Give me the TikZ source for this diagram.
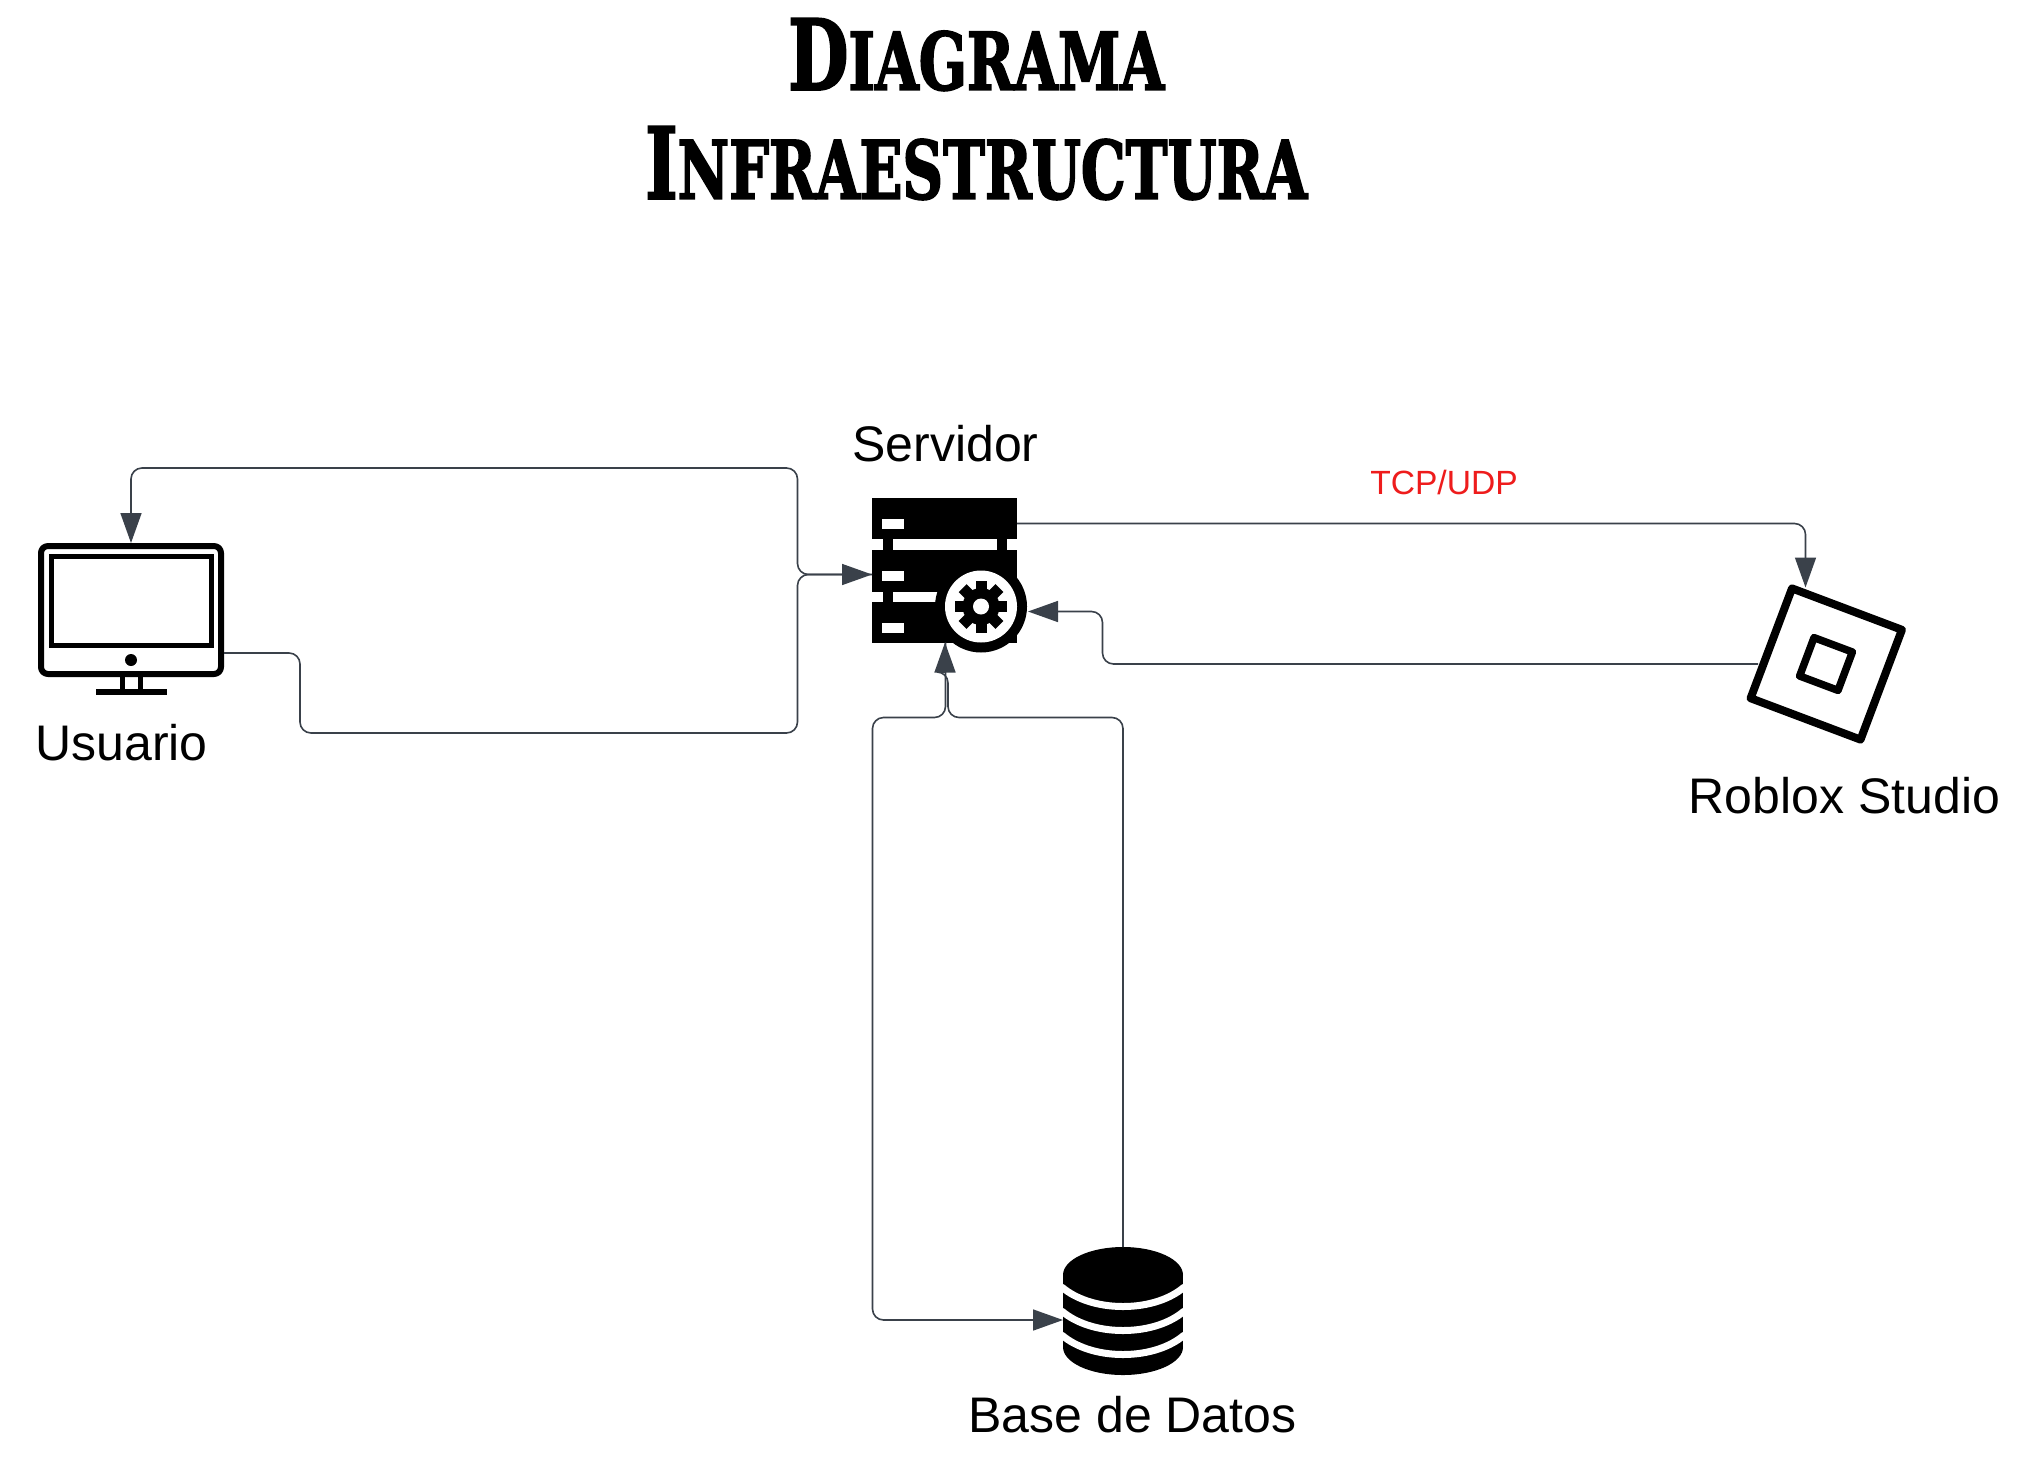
\documentclass[tikz,border=0pt]{standalone}
\usepackage{fontspec}
\usepackage{graphicx}
\setmainfont{Liberation Sans}
\newfontfamily\titlefont{DejaVu Serif}[BoldFont={DejaVu Serif Bold},BoldFeatures={FakeBold=2.5}]
\usetikzlibrary{arrows.meta}
\definecolor{linecol}{HTML}{3A414A}
\definecolor{redlab}{HTML}{EE1C1C}
\newcommand{\smcaptitle}[2]{{\fontsize{96}{96}\selectfont #1}{\fontsize{78}{78}\selectfont #2}}
\tikzset{
  wire/.style={draw=linecol,line width=1.6pt,rounded corners=11pt},
  tipped/.style={-{Triangle[length=30pt,width=21pt,fill=linecol]}},
  anchorbox/.style={inner sep=0pt,outer sep=0pt,rectangle},
  lbl/.style={anchor=base,inner sep=0pt,font=\fontsize{50}{50}\selectfont,text=black},
  titletxt/.style={anchor=south west,inner sep=0pt,text=black,font=\titlefont\bfseries},
  iconline/.style={draw=black,line join=round},
}
\begin{document}
\begin{tikzpicture}[x=1pt,y=-1pt]
\useasboundingbox (0,0) rectangle (2036,1459);
\fill[white] (0,0) rectangle (2036,1459);

% Title
\node[titletxt] (title1) at (788,91) {\resizebox{376pt}{71pt}{\smcaptitle{D}{IAGRAMA}}};
\node[titletxt] (title2) at (645,200) {\resizebox{662pt}{72pt}{\smcaptitle{I}{NFRAESTRUCTURA}}};

% Anchor boxes for the icons
\node[anchorbox,minimum width=186pt,minimum height=134pt] (usuario) at (131,610) {};
\node[anchorbox,minimum width=145pt,minimum height=145pt] (servidor) at (944.5,570) {};
\node[anchorbox,minimum width=159pt,minimum height=161pt] (roblox) at (1826.5,664) {};
\node[anchorbox,minimum width=120pt,minimum height=128pt] (basedatos) at (1123,1311) {};

% Monitor icon
\draw[iconline,line width=6pt,rounded corners=7pt] (41,546) rectangle (221,674);
\draw[draw=black,line width=5.2pt] (51.6,556.6) rectangle (211.4,645.4);
\fill[black] (131,660) circle (6pt);
\fill[black] (120,677) rectangle (125,690);
\fill[black] (138,677) rectangle (143,690);
\fill[black] (96,689) rectangle (167,695);

% Server icon
\fill[black] (872,497.5) rectangle (1017,538.5);
\fill[black] (872,549.5) rectangle (1017,591.5);
\fill[black] (872,601.5) rectangle (1017,642.5);
\fill[black] (883,538) rectangle (893,550);
\fill[black] (997,538) rectangle (1007,550);
\fill[black] (883,591) rectangle (893,602);
\fill[white] (882,518.5) rectangle (904,528.5);
\fill[white] (882,570.5) rectangle (904,580.5);
\fill[white] (882,622.5) rectangle (904,632.5);
\fill[black] (981,606.5) circle (46pt);
\fill[white] (981,606.5) circle (36pt);
\fill[black] (981,606.5) circle (18.5pt);
\foreach \a in {0,45,...,315}{
  \fill[black,rotate around={\a:(981,606.5)}] (975.5,580.5) rectangle (986.5,596.5);
}
\fill[white] (981,606.5) circle (8pt);

% Roblox icon
\draw[iconline,line width=8pt] (1792,588.4) -- (1901.9,629.8) -- (1860.5,739.6) -- (1750.6,698.2) -- cycle;
\draw[iconline,line width=7.5pt] (1814,637.6) -- (1852.4,652) -- (1838,690.4) -- (1799.6,676) -- cycle;

% Database icon
\fill[black] (1123,1275) ellipse [x radius=60pt,y radius=28pt];
\fill[black] (1123,1347) ellipse [x radius=60pt,y radius=28pt];
\fill[black] (1063,1275) rectangle (1183,1347);
\foreach \y in {1288,1312,1336}{
  \draw[white,line width=7pt] (1060,\y-1.5) -- (1063,\y) .. controls (1075,\y+10) and (1096,\y+18.5) .. (1123,\y+18.5) .. controls (1150,\y+18.5) and (1171,\y+10) .. (1183,\y) -- (1186,\y-1.5);
}

% Connectors
\draw[wire,tipped] ([yshift=-43pt]usuario.east) -- (300,653) -- (300,733) -- (797.5,733) -- (797.5,574.5) -- ([yshift=-4.5pt]servidor.west);
\draw[wire,tipped] ([yshift=-4.5pt]servidor.west) -- (797.5,574.5) -- (797.5,468) -- (131,468) -- (usuario.north);
\draw[wire,tipped] ([yshift=46.5pt]servidor.east) -- (1805.5,523.5) -- ([xshift=-21pt,yshift=-4pt]roblox.north);
\draw[wire,tipped] ([xshift=11pt]roblox.west) -- (1102.5,664) -- (1102.5,611.5) -- ([xshift=11pt,yshift=-41.5pt]servidor.east);
\draw[wire,tipped] (basedatos.north) -- (1123,717.5) -- (948,717.5) -- (948,672) [sharp corners] -- (945,672) -- ([xshift=0.5pt]servidor.south);
\draw[wire,tipped] ([xshift=1pt]servidor.south) -- (945.5,717.5) -- (872.5,717.5) -- (872.5,1320) -- ([yshift=-9pt]basedatos.west);

% Labels
\node[lbl] (lblusuario) at (121.5,760) {Usuario};
\node[lbl] (lblservidor) at (945.5,461) {Servidor};
\node[lbl] (lblroblox) at (1844.5,813) {Roblox Studio};
\node[lbl] (lblbase) at (1132.5,1432) {Base de Datos};
\node[lbl,font=\fontsize{33.6}{34}\selectfont,text=redlab] (lbltcp) at (1444,494.5) {TCP/UDP};
\end{tikzpicture}
\end{document}
